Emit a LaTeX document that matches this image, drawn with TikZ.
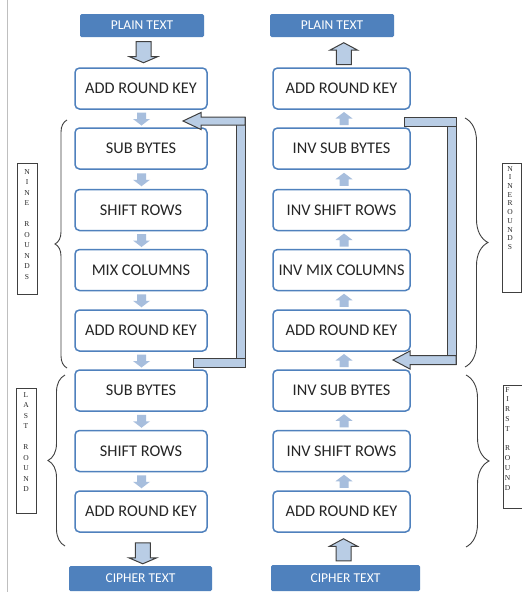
\documentclass[tikz,border=0pt]{standalone}
\usepackage{fontspec}
\setmainfont{Carlito}
\newfontfamily\lblfont{Liberation Serif}
\usetikzlibrary{calc,decorations.pathreplacing}
\definecolor{boxblue}{HTML}{4F81BD}
\definecolor{hdrblue}{HTML}{4F81BD}
\definecolor{arrfill}{HTML}{A7BEDD}
\definecolor{bigfill}{HTML}{B9CDE5}
\definecolor{txtgray}{HTML}{262626}
\definecolor{lineg}{HTML}{404040}
\begin{document}
\begin{tikzpicture}[x=1pt,y=-1pt,
  stepbox/.style={draw=boxblue, line width=1.5pt, rounded corners=4.5pt, fill=white,
    minimum height=41pt, inner sep=0pt, text=txtgray, font=\fontsize{16.3}{18}\selectfont},
  lbox/.style={stepbox, minimum width=132pt},
  rbox/.style={stepbox, minimum width=137pt},
  hdr/.style={fill=hdrblue, rounded corners=1.5pt, inner sep=0pt, text=white,
    font=\fontsize{13.5}{15}\selectfont},
  sidebox/.style={draw=lineg, line width=1pt, fill=white, inner sep=0pt},
  sidetext/.style={align=center, inner sep=0pt, text=black!85},
  bracest/.style={draw=lineg, line width=0.9pt, decorate},
  bigarr/.style={fill=bigfill, draw=lineg, line width=1pt, line join=miter},
  sdown/.pic={\fill[arrfill] (-4.5,-6.5) -- (4.5,-6.5) -- (4.5,0) -- (8.5,0) -- (0,6.5) -- (-8.5,0) -- (-4.5,0) -- cycle;},
  sup/.pic={\fill[arrfill] (-4.5,6.5) -- (4.5,6.5) -- (4.5,0) -- (8.5,0) -- (0,-6.5) -- (-8.5,0) -- (-4.5,0) -- cycle;},
  bdown/.pic={\path[bigarr] (-7.5,-10.5) -- (7.5,-10.5) -- (7.5,4.5) -- (14,4.5) -- (0,10.5) -- (-14,4.5) -- (-7.5,4.5) -- cycle;},
  bup/.pic={\path[bigarr] (-7.5,11) -- (7.5,11) -- (7.5,-3.5) -- (14,-3.5) -- (0,-11) -- (-14,-3.5) -- (-7.5,-3.5) -- cycle;}
]
\useasboundingbox (0,0) rectangle (522,592);
\fill[white] (0,0) rectangle (522,592);
\draw[black!25, line width=0.8pt] (7,0) -- (7,592);

% headers
\node[hdr, minimum width=124pt, minimum height=23pt] (LP) at (142,25.5) {PLAIN TEXT};
\node[hdr, minimum width=124pt, minimum height=23pt] (RP) at (332,25.5) {PLAIN TEXT};
\node[hdr, minimum width=143pt, minimum height=25pt] (LC) at (140.5,578.5) {CIPHER TEXT};
\node[hdr, minimum width=149pt, minimum height=26pt] (RC) at (345.5,578) {CIPHER TEXT};

% left column
\node[lbox] (L1) at (141,88.5) {ADD ROUND KEY};
\node[lbox] (L2) at (141,148.5) {SUB BYTES};
\node[lbox] (L3) at (141,210) {SHIFT ROWS};
\node[lbox] (L4) at (141,270) {MIX COLUMNS};
\node[lbox] (L5) at (141,330.5) {ADD ROUND KEY};
\node[lbox] (L6) at (141,390.5) {SUB BYTES};
\node[lbox] (L7) at (141,451) {SHIFT ROWS};
\node[lbox] (L8) at (141,511.5) {ADD ROUND KEY};

% right column
\node[rbox] (R1) at (341.5,88.5) {ADD ROUND KEY};
\node[rbox] (R2) at (341.5,148.5) {INV SUB BYTES};
\node[rbox] (R3) at (341.5,210) {INV SHIFT ROWS};
\node[rbox] (R4) at (341.5,270) {INV MIX COLUMNS};
\node[rbox] (R5) at (341.5,330.5) {ADD ROUND KEY};
\node[rbox] (R6) at (341.5,390.5) {INV SUB BYTES};
\node[rbox] (R7) at (341.5,451) {INV SHIFT ROWS};
\node[rbox] (R8) at (341.5,511.5) {ADD ROUND KEY};

% small arrows
\foreach \a/\b in {L1/L2,L2/L3,L3/L4,L4/L5,L5/L6,L6/L7,L7/L8}
  \pic at ($(\a.south)!0.5!(\b.north)+(0.5,0.5)$) {sdown};
\foreach \a/\b in {R1/R2,R2/R3,R3/R4,R4/R5,R5/R6,R6/R7,R7/R8}
  \pic at ($(\a.south)!0.5!(\b.north)+(2.5,0)$) {sup};

% big arrows
\pic at ($(LP.south)!0.5!(L1.north)+(2,0)$) {bdown};
\pic at ($(L8.south)!0.5!(LC.north)+(2,4)$) {bdown};
\pic at ($(RP.south)!0.5!(R1.north)+(7,1.5)$) {bup};
\pic at ($(R8.south)!0.5!(RC.north)+(0,1)$) {bup};

% left loop
\coordinate (lvt) at (236,117);
\coordinate (lvb) at (245,367);
\coordinate (lbb) at (193,358);
\coordinate (ltip) at (183,121);
\path[bigarr] (lvt) rectangle (lvb);
\path[bigarr] (lbb) rectangle (lvb);
\path[bigarr] (ltip) -- ++(18,-8.5) -- ++(0,4.5) -- ++(44,0) -- ++(0,8) -- ++(-44,0) -- ++(0,4.5) -- cycle;

% right loop
\coordinate (rvt) at (447,117);
\coordinate (rvb) at (456,364.5);
\coordinate (rtt) at (404,117);
\coordinate (rtip) at (393,360);
\path[bigarr] (rvt) rectangle (rvb);
\path[bigarr] (rtt) rectangle (456,126);
\path[bigarr] (rtip) -- ++(17,-9) -- ++(0,4.5) -- ++(46,0) -- ++(0,9) -- ++(-46,0) -- ++(0,4.5) -- cycle;

% braces
\draw[bracest, decoration={brace, amplitude=12pt}] (67,368) -- (67,120);
\draw[bracest, decoration={brace, amplitude=17pt}] (65,546) -- (65,375);
\draw[bracest, decoration={brace, amplitude=23pt}] (465,118) -- (465,367);
\draw[bracest, decoration={brace, amplitude=23pt}] (466,375) -- (466,547);

% side labels
\node[sidebox, minimum width=20pt, minimum height=131pt] (NB) at (27,228.5) {};
\node[sidetext, anchor=north, font=\lblfont\fontsize{7.5}{10.5}\selectfont] (NT) at (27,169)
  {N\\I\\N\\E\\~\\R\\O\\U\\N\\D\\S};
\node[sidebox, minimum width=19pt, minimum height=129pt] (RB) at (511.5,227.5) {};
\node[sidetext, anchor=north, font=\lblfont\fontsize{7.5}{8.7}\selectfont] (RT) at (510,166)
  {N\\I\\N\\E\\R\\O\\U\\N\\D\\S};
\node[sidebox, minimum width=20pt, minimum height=125pt] (LB) at (26,450.5) {};
\node[sidetext, anchor=north, font=\lblfont\fontsize{7.5}{10.5}\selectfont] (LT) at (26,392)
  {L\\A\\S\\T\\~\\R\\O\\U\\N\\D};
\node[sidebox, minimum width=27pt, minimum height=123pt] (FB) at (516.5,446.5) {};
\node[sidetext, anchor=north, font=\lblfont\fontsize{7.5}{9.8}\selectfont] (FT) at (507.5,387)
  {F\\I\\R\\S\\T\\~\\R\\O\\U\\N\\D};
\end{tikzpicture}
\end{document}
